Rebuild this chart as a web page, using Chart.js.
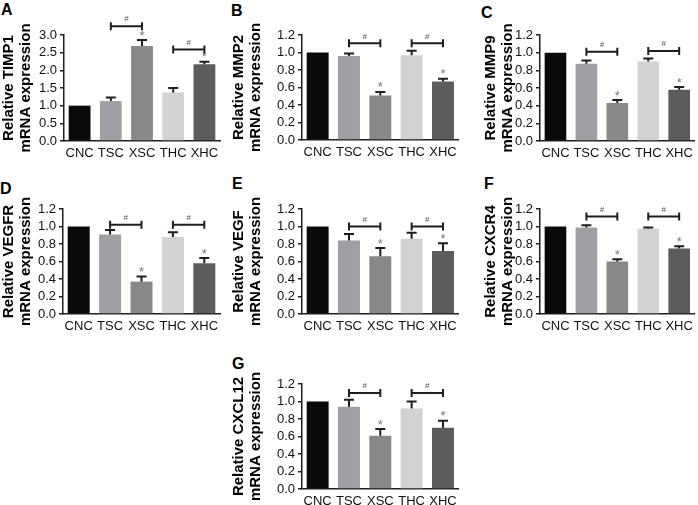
<!DOCTYPE html>
<html>
<head>
<meta charset="utf-8">
<script src="https://cdn.jsdelivr.net/npm/chart.js@4"></script>
<style>
  html, body { margin: 0; padding: 0; background: #fff; overflow: hidden; }
  body { width: 698px; height: 505px; position: relative; font-family: "Liberation Sans", Arial, sans-serif; }
  .panel { position: absolute; }
  .letter { position: absolute; font-weight: bold; font-size: 16px; line-height: 1; color: #000; }
</style>
</head>
<body>
<div class="letter" style="left:1px;top:2px">A</div>
<div class="letter" style="left:231px;top:3px">B</div>
<div class="letter" style="left:481px;top:5px">C</div>
<div class="letter" style="left:0px;top:181px">D</div>
<div class="letter" style="left:232px;top:176px">E</div>
<div class="letter" style="left:484px;top:176px">F</div>
<div class="letter" style="left:232px;top:356px">G</div>

<script>
// groups on the x axis
const categories = ['CNC', 'TSC', 'XSC', 'THC', 'XHC'];
const barColors = ['#0a0a0a', '#a0a0a4', '#888888', '#d2d2d2', '#5c5c5c'];

// mean relative expression
const timp1  = [1.00, 1.13, 2.69, 1.37, 2.17];
const mmp2   = [1.00, 0.96, 0.51, 0.97, 0.67];
const mmp9   = [1.00, 0.875, 0.43, 0.90, 0.58];
const vegfr  = [1.00, 0.91, 0.37, 0.88, 0.58];
const vegf   = [1.00, 0.84, 0.66, 0.86, 0.72];
const cxcr4  = [1.00, 0.99, 0.60, 0.975, 0.75];
const cxcl12 = [1.00, 0.94, 0.61, 0.92, 0.70];

// upper error bars
const timp1Err  = [0, 0.10, 0.17, 0.13, 0.07];
const mmp2Err   = [0, 0.03, 0.04, 0.05, 0.03];
const mmp9Err   = [0, 0.035, 0.035, 0.035, 0.03];
const vegfrErr  = [0, 0.05, 0.06, 0.055, 0.06];
const vegfErr   = [0, 0.075, 0.095, 0.07, 0.09];
const cxcr4Err  = [0, 0.023, 0.027, 0.015, 0.023];
const cxcl12Err = [0, 0.08, 0.075, 0.08, 0.08];

// height (in data units) of the two "#" brackets TSC-XSC and THC-XHC
const timp1Brk  = [3.25, 2.59];
const mmp2Brk   = [1.105, 1.105];
const mmp9Brk   = [1.01, 1.02];
const vegfrBrk  = [1.02, 1.02];
const vegfBrk   = [1.0, 1.0];
const cxcr4Brk  = [1.115, 1.115];
const cxcl12Brk = [1.097, 1.097];

const ink = '#1e1e1e';

function makeChart(box, gene, values, errs, brackets, yMax, yStep) {
    const div = document.createElement('div');
    div.className = 'panel';
    div.style.left = box.left + 'px';
    div.style.top = box.top + 'px';
    const canvas = document.createElement('canvas');
    canvas.width = box.width;
    canvas.height = box.height;
    div.appendChild(canvas);
    document.body.appendChild(div);

    // error bars, asterisks and # brackets drawn through the chart's scales
    const sigPlugin = {
        id: 'sig_' + gene,
        afterDatasetsDraw(chart) {
            const c = chart.ctx;
            const xs = chart.scales.x, ys = chart.scales.y;
            c.save();
            c.strokeStyle = ink;
            c.lineWidth = 2;
            for (let i = 0; i < values.length; i++) {
                if (!errs[i]) continue;
                const x = xs.getPixelForValue(i);
                const y0 = ys.getPixelForValue(values[i]);
                const y1 = ys.getPixelForValue(values[i] + errs[i]);
                c.beginPath();
                c.moveTo(x, y0);
                c.lineTo(x, y1);
                c.moveTo(x - 5, y1);
                c.lineTo(x + 5, y1);
                c.stroke();
            }
            // asterisks over XSC and XHC
            c.fillStyle = '#777';
            c.font = '13px "Liberation Sans", Arial';
            c.textAlign = 'center';
            c.textBaseline = 'middle';
            [2, 4].forEach(i => {
                const x = xs.getPixelForValue(i);
                const y1 = ys.getPixelForValue(values[i] + errs[i]);
                c.fillText('*', x, y1 - 4);
            });
            // brackets
            [[1, 2], [3, 4]].forEach((pair, k) => {
                const xa = xs.getPixelForValue(pair[0]);
                const xb = xs.getPixelForValue(pair[1]);
                const y = ys.getPixelForValue(brackets[k]);
                c.beginPath();
                c.moveTo(xa, y);
                c.lineTo(xb, y);
                c.moveTo(xa, y - 4);
                c.lineTo(xa, y + 4);
                c.moveTo(xb, y - 4);
                c.lineTo(xb, y + 4);
                c.stroke();
                c.fillStyle = '#555';
                c.font = '8px "Liberation Sans", Arial';
                c.fillText('#', (xa + xb) / 2, y - 7);
            });
            c.restore();
        }
    };

    return new Chart(canvas.getContext('2d'), {
        type: 'bar',
        data: {
            labels: categories,
            datasets: [{
                data: values,
                backgroundColor: barColors,
                borderWidth: 0,
                barPercentage: 0.7,
                categoryPercentage: 1.0
            }]
        },
        options: {
            responsive: false,
            animation: false,
            devicePixelRatio: 1,
            layout: { padding: { top: box.padTop, right: box.padRight, left: 0, bottom: 0 } },
            plugins: { legend: { display: false }, tooltip: { enabled: false } },
            scales: {
                x: {
                    grid: { display: false, drawTicks: false, tickLength: 0 },
                    border: { display: true, color: ink, width: 1.5 },
                    ticks: {
                        color: '#111',
                        font: { size: 13, family: '"Liberation Sans", Arial' },
                        padding: 5,
                        maxRotation: 0,
                        minRotation: 0,
                        autoSkip: false
                    },
                    afterFit: s => { s.height = 26; }
                },
                y: {
                    min: 0,
                    max: yMax,
                    grid: { display: true, drawOnChartArea: false, drawTicks: true, tickLength: 4, color: ink, lineWidth: 1.5 },
                    border: { display: true, color: ink, width: 1.5 },
                    ticks: {
                        stepSize: yStep,
                        autoSkip: false,
                        color: '#111',
                        padding: 3,
                        font: { size: 13, family: '"Liberation Sans", Arial' },
                        callback: v => Number(v).toFixed(1)
                    },
                    title: {
                        display: true,
                        text: ['Relative ' + gene, 'mRNA expression'],
                        color: '#000',
                        align: 'center',
                        padding: { top: 1, bottom: 0 },
                        font: { size: 15, weight: 'bold', family: '"Liberation Sans", Arial', lineHeight: 1.1 }
                    },
                    afterFit: s => { s.width = box.yW; }
                }
            }
        },
        plugins: [sigPlugin]
    });
}

makeChart({ left: 0,   top: 0,   width: 225, height: 167, padTop: 35, padRight: 5, yW: 64 }, 'TIMP1',  timp1,  timp1Err,  timp1Brk,  3.0, 0.5);
makeChart({ left: 230, top: 0,   width: 232, height: 166, padTop: 35, padRight: 3, yW: 72 }, 'MMP2',   mmp2,   mmp2Err,   mmp2Brk,   1.2, 0.2);
makeChart({ left: 482, top: 0,   width: 216, height: 167, padTop: 35, padRight: 1, yW: 58 }, 'MMP9',   mmp9,   mmp9Err,   mmp9Brk,   1.2, 0.2);
makeChart({ left: 0,   top: 165, width: 225, height: 175, padTop: 44, padRight: 5, yW: 63 }, 'VEGFR',  vegfr,  vegfrErr,  vegfrBrk,  1.2, 0.2);
makeChart({ left: 230, top: 165, width: 232, height: 175, padTop: 44, padRight: 3, yW: 72 }, 'VEGF',   vegf,   vegfErr,   vegfBrk,   1.2, 0.2);
makeChart({ left: 482, top: 165, width: 216, height: 175, padTop: 44, padRight: 1, yW: 58 }, 'CXCR4',  cxcr4,  cxcr4Err,  cxcr4Brk,  1.2, 0.2);
makeChart({ left: 230, top: 330, width: 232, height: 185, padTop: 54, padRight: 3, yW: 72 }, 'CXCL12', cxcl12, cxcl12Err, cxcl12Brk, 1.2, 0.2);
</script>
</body>
</html>
